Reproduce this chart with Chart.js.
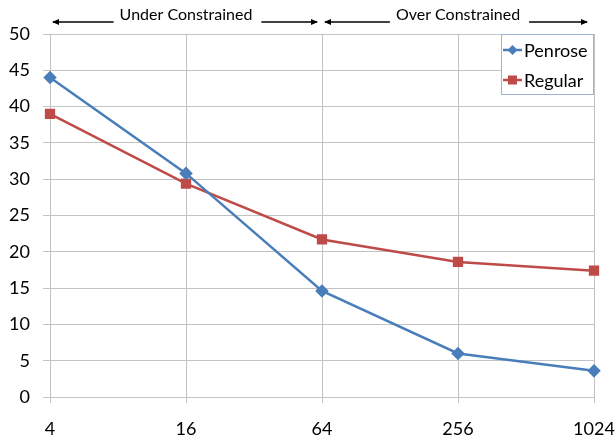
<!DOCTYPE html>
<html>
<head>
<meta charset="utf-8">
<script src="https://cdn.jsdelivr.net/npm/chart.js@4/dist/chart.umd.min.js"></script>
<style>
html,body{margin:0;padding:0;background:#fff;}
#wrap{width:615px;height:443px;position:relative;}
</style>
</head>
<body>
<div id="wrap"><canvas id="c" width="615" height="443"></canvas></div>
<script>
const categories = ["4", "16", "64", "256", "1024"];
const penrose = [44.0, 30.8, 14.6, 6.0, 3.6];
const regular = [39.0, 29.4, 21.7, 18.6, 17.4];
const seriesNames = ["Penrose", "Regular"];
const regionLabels = ["Under Constrained", "Over Constrained"];

const BLUE = "#4a7ebb";
const RED = "#be4b48";
const GRID = "#c3c3c3";
const FONT = "Lato, 'Open Sans', sans-serif";

const annotPlugin = {
  id: "annot",
  afterDraw(chart) {
    const ctx = chart.ctx;
    const xs = chart.scales.x;
    const p = i => xs.getPixelForValue(i);
    ctx.save();
    ctx.fillStyle = "#000";
    ctx.strokeStyle = "#000";
    ctx.lineWidth = 1.3;
    ctx.font = "16px " + FONT;
    ctx.textAlign = "center";
    ctx.textBaseline = "alphabetic";
    const ay = 22;
    function arrow(x1, x2) { // from x1 to x2, head at x2
      ctx.beginPath();
      ctx.moveTo(x1, ay);
      ctx.lineTo(x2, ay);
      ctx.stroke();
      const d = x2 > x1 ? 1 : -1;
      ctx.beginPath();
      ctx.moveTo(x2 + d * 1, ay);
      ctx.lineTo(x2 - d * 6, ay - 3);
      ctx.lineTo(x2 - d * 6, ay + 3);
      ctx.closePath();
      ctx.fill();
    }
    const regions = [[0, 2], [2, 4]];
    regions.forEach((r, k) => {
      const a = p(r[0]), b = p(r[1]);
      const c = (a + b) / 2;
      const txt = regionLabels[k];
      ctx.fillText(txt, c, 20);
      const w = ctx.measureText(txt).width;
      arrow(c - w / 2 - 6, a + 3);
      arrow(c + w / 2 + 9, b - 5 + (k === 1 ? -2 : 0));
    });
    // legend box
    const ca = chart.chartArea;
    const bx = 501, by = ca.top, bw = ca.right - 501, bh = 61;
    ctx.fillStyle = "#fff";
    ctx.fillRect(bx, by, bw, bh);
    ctx.strokeStyle = "#9ab3d5";
    ctx.lineWidth = 1;
    ctx.strokeRect(bx + 0.5, by + 0.5, bw - 1, bh - 1);
    const ds = chart.data.datasets;
    ds.forEach((d, i) => {
      const yy = by + 16 + i * 30;
      ctx.strokeStyle = d.borderColor;
      ctx.lineWidth = 2.5;
      ctx.beginPath();
      ctx.moveTo(503, yy);
      ctx.lineTo(522, yy);
      ctx.stroke();
      ctx.fillStyle = d.backgroundColor;
      ctx.beginPath();
      if (i === 0) {
        ctx.moveTo(512.5, yy - 5);
        ctx.lineTo(517.5, yy);
        ctx.lineTo(512.5, yy + 5);
        ctx.lineTo(507.5, yy);
        ctx.closePath();
      } else {
        ctx.rect(508, yy - 4.5, 9, 9);
      }
      ctx.fill();
      ctx.fillStyle = "#000";
      ctx.font = "18px " + FONT;
      ctx.textAlign = "left";
      ctx.textBaseline = "middle";
      ctx.fillText(d.label, 524, yy + 1);
    });
    ctx.restore();
  }
};

new Chart(document.getElementById("c"), {
  type: "line",
  data: {
    labels: categories,
    datasets: [
      {
        label: seriesNames[0],
        data: penrose,
        borderColor: BLUE,
        backgroundColor: BLUE,
        borderWidth: 2.5,
        pointStyle: "rectRot",
        pointRadius: 5,
        pointHoverRadius: 5,
        tension: 0
      },
      {
        label: seriesNames[1],
        data: regular,
        borderColor: RED,
        backgroundColor: RED,
        borderWidth: 2.5,
        pointStyle: "rect",
        pointRadius: 5.5,
        pointHoverRadius: 5.5,
        tension: 0
      }
    ]
  },
  options: {
    responsive: false,
    animation: false,
    devicePixelRatio: 1,
    layout: { padding: { left: 0, right: 21, top: 34, bottom: 0 } },
    plugins: {
      legend: { display: false },
      tooltip: { enabled: false }
    },
    scales: {
      x: {
        type: "category",
        offset: false,
        grid: { color: GRID, lineWidth: 1, drawTicks: true, tickLength: 6, tickColor: GRID },
        border: { color: GRID, width: 1 },
        ticks: {
          color: "#000",
          font: { family: FONT, size: 18 },
          padding: 15,
          maxRotation: 0,
          autoSkip: false
        },
        afterFit(scale) { scale.height = 46; scale.paddingLeft = 0; scale.paddingRight = 0; }
      },
      y: {
        min: 0,
        max: 50,
        grid: { color: GRID, lineWidth: 1, drawTicks: true, tickLength: 7, tickColor: GRID },
        border: { color: GRID, width: 1 },
        ticks: {
          stepSize: 5,
          color: "#000",
          font: { family: FONT, size: 18 },
          padding: 13
        },
        afterFit(scale) { scale.width = 50; scale.paddingTop = 0; scale.paddingBottom = 0; }
      }
    }
  },
  plugins: [annotPlugin]
});
</script>
</body>
</html>
